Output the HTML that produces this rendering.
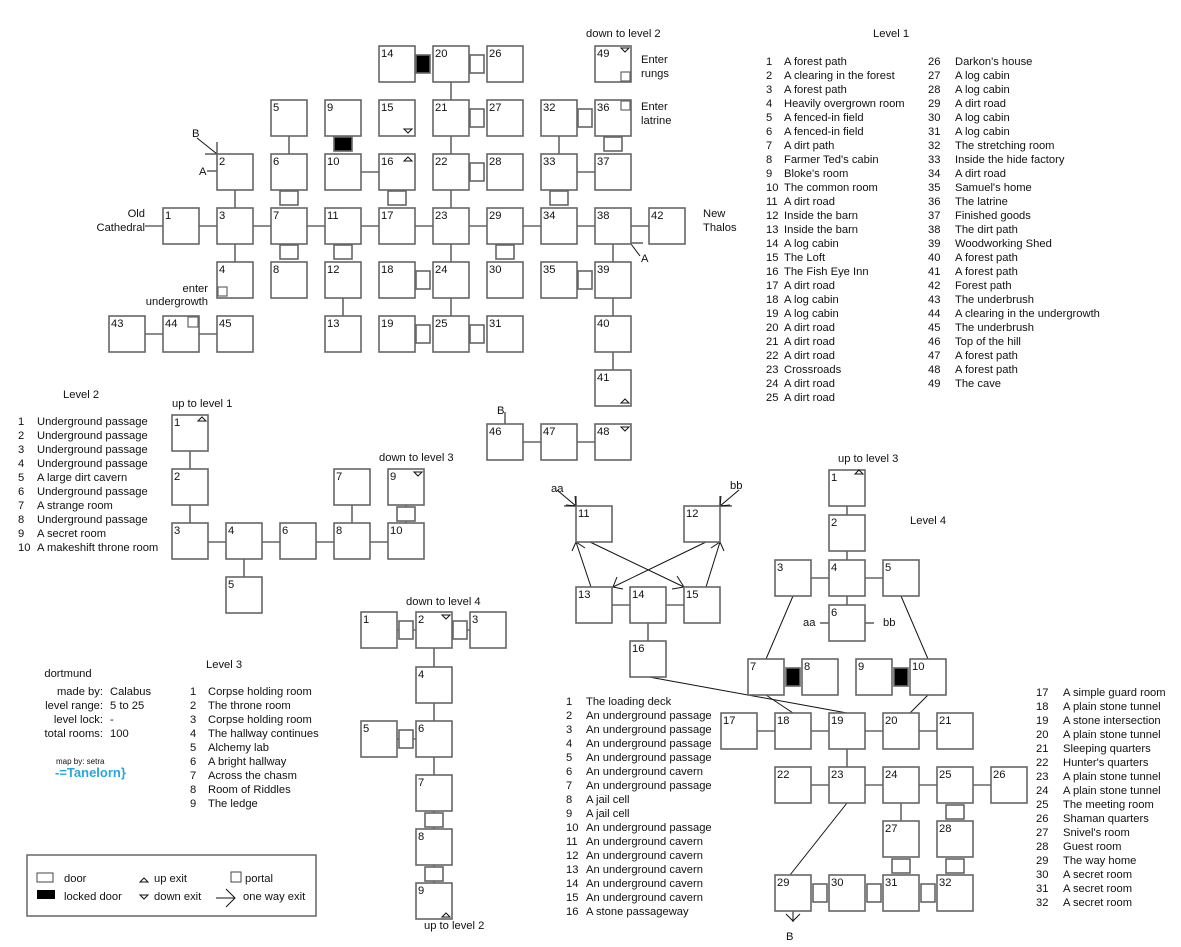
<!DOCTYPE html>
<html><head><meta charset="utf-8"><style>
html,body{margin:0;padding:0;background:#fff;}
svg{display:block;}
text{font-family:"Liberation Sans",sans-serif;font-size:11.2px;fill:#111;}
.r{fill:#fff;stroke:#666;stroke-width:1.6;}
.d{fill:#fff;stroke:#666;stroke-width:1.6;}
.k{fill:#000;stroke:#666;stroke-width:1.6;}
.l{stroke:#666;stroke-width:1.6;fill:none;}
.t{stroke:#111;stroke-width:1;fill:none;}
.p{fill:#fff;stroke:#666;stroke-width:1.2;}
.n{font-size:11.5px;}
</style></head><body>
<svg width="1181" height="947" viewBox="0 0 1181 947" xmlns="http://www.w3.org/2000/svg">
<defs>
<g id="R"><rect class="r" x="0" y="0" width="36" height="36"/></g>
</defs>
<g class="l">
<line x1="145" y1="226" x2="685" y2="226"/>
<line x1="235" y1="172" x2="235" y2="280"/>
<line x1="289" y1="118" x2="289" y2="172"/>
<line x1="343" y1="172" x2="397" y2="172"/>
<line x1="343" y1="280" x2="343" y2="334"/>
<line x1="451" y1="64" x2="451" y2="334"/>
<line x1="559" y1="118" x2="559" y2="172"/>
<line x1="559" y1="172" x2="613" y2="172"/>
<line x1="613" y1="226" x2="613" y2="388"/>
<line x1="127" y1="334" x2="235" y2="334"/>
<line x1="505" y1="442" x2="613" y2="442"/>
<line x1="505" y1="424" x2="505" y2="412"/>
<line x1="205" y1="154" x2="217" y2="154"/>
<line x1="217" y1="142" x2="217" y2="154"/>
<line x1="207" y1="171" x2="217" y2="171"/>
<line x1="631" y1="243" x2="643" y2="243"/>
<line x1="190" y1="434" x2="190" y2="542"/>
<line x1="190" y1="542" x2="406" y2="542"/>
<line x1="244" y1="542" x2="244" y2="595"/>
<line x1="352" y1="488" x2="352" y2="542"/>
<line x1="406" y1="488" x2="406" y2="542"/>
<line x1="380" y1="630" x2="488" y2="630"/>
<line x1="434" y1="630" x2="434" y2="901"/>
<line x1="380" y1="739" x2="434" y2="739"/>
<line x1="847" y1="488" x2="847" y2="623"/>
<line x1="793" y1="578" x2="901" y2="578"/>
<line x1="820" y1="623" x2="829" y2="623"/>
<line x1="865" y1="623" x2="874" y2="623"/>
<line x1="739" y1="731" x2="955" y2="731"/>
<line x1="847" y1="731" x2="847" y2="785"/>
<line x1="793" y1="785" x2="1009" y2="785"/>
<line x1="901" y1="785" x2="901" y2="839"/>
<line x1="594" y1="605" x2="702" y2="605"/>
<line x1="648" y1="605" x2="648" y2="659"/>
<line x1="564" y1="506" x2="576" y2="506"/>
<line x1="576" y1="496" x2="576" y2="506"/>
<line x1="720" y1="506" x2="732" y2="506"/>
<line x1="720" y1="496" x2="720" y2="506"/>
</g>
<g class="t">
<line x1="197" y1="138" x2="217" y2="154"/>
<line x1="631" y1="244" x2="640" y2="256"/>
<line x1="793" y1="596" x2="766" y2="659"/>
<line x1="901" y1="596" x2="928" y2="659"/>
<line x1="766" y1="695" x2="793" y2="713"/>
<line x1="649" y1="677" x2="847" y2="713"/>
<line x1="928" y1="695" x2="910" y2="713"/>
<line x1="847" y1="803" x2="790" y2="875"/>
<line x1="793" y1="911" x2="793" y2="922"/><polyline points="786,914 793,921 800,914"/>
<line x1="591" y1="587" x2="576" y2="542"/><polyline points="572,551 576,542 585,548"/>
<line x1="706" y1="587" x2="720" y2="542"/><polyline points="711,548 720,542 724,551"/>
<line x1="590" y1="542" x2="684" y2="587"/><polyline points="677,576 684,587 672,589"/>
<line x1="706" y1="542" x2="613" y2="587"/><polyline points="617,577 613,587 623,589"/>
<line x1="557" y1="490" x2="576" y2="506"/><polyline points="566,505 576,506 575,496"/>
<line x1="739" y1="490" x2="720" y2="506"/><polyline points="721,496 720,506 730,505"/>
</g>
<g>
<use href="#R" x="163" y="208"/><use href="#R" x="217" y="154"/><use href="#R" x="217" y="208"/><use href="#R" x="217" y="262"/>
<use href="#R" x="271" y="100"/><use href="#R" x="271" y="154"/><use href="#R" x="271" y="208"/><use href="#R" x="271" y="262"/>
<use href="#R" x="325" y="100"/><use href="#R" x="325" y="154"/><use href="#R" x="325" y="208"/><use href="#R" x="325" y="262"/><use href="#R" x="325" y="316"/>
<use href="#R" x="379" y="46"/><use href="#R" x="379" y="100"/><use href="#R" x="379" y="154"/><use href="#R" x="379" y="208"/><use href="#R" x="379" y="262"/><use href="#R" x="379" y="316"/>
<use href="#R" x="433" y="46"/><use href="#R" x="433" y="100"/><use href="#R" x="433" y="154"/><use href="#R" x="433" y="208"/><use href="#R" x="433" y="262"/><use href="#R" x="433" y="316"/>
<use href="#R" x="487" y="46"/><use href="#R" x="487" y="100"/><use href="#R" x="487" y="154"/><use href="#R" x="487" y="208"/><use href="#R" x="487" y="262"/><use href="#R" x="487" y="316"/>
<use href="#R" x="541" y="100"/><use href="#R" x="541" y="154"/><use href="#R" x="541" y="208"/><use href="#R" x="541" y="262"/>
<use href="#R" x="595" y="100"/><use href="#R" x="595" y="154"/><use href="#R" x="595" y="208"/><use href="#R" x="595" y="262"/><use href="#R" x="595" y="316"/><use href="#R" x="595" y="370"/>
<use href="#R" x="649" y="208"/><use href="#R" x="109" y="316"/><use href="#R" x="163" y="316"/><use href="#R" x="217" y="316"/>
<use href="#R" x="487" y="424"/><use href="#R" x="541" y="424"/><use href="#R" x="595" y="424"/><use href="#R" x="595" y="46"/>
<use href="#R" x="172" y="415"/><use href="#R" x="172" y="469"/><use href="#R" x="172" y="523"/><use href="#R" x="226" y="523"/><use href="#R" x="226" y="577"/>
<use href="#R" x="280" y="523"/><use href="#R" x="334" y="469"/><use href="#R" x="334" y="523"/><use href="#R" x="388" y="469"/><use href="#R" x="388" y="523"/>
<use href="#R" x="361" y="612"/><use href="#R" x="416" y="612"/><use href="#R" x="470" y="612"/><use href="#R" x="416" y="667"/>
<use href="#R" x="361" y="721"/><use href="#R" x="416" y="721"/><use href="#R" x="416" y="775"/><use href="#R" x="416" y="829"/><use href="#R" x="416" y="883"/>
<use href="#R" x="829" y="470"/><use href="#R" x="829" y="515"/><use href="#R" x="775" y="560"/><use href="#R" x="829" y="560"/><use href="#R" x="883" y="560"/><use href="#R" x="829" y="605"/>
<use href="#R" x="748" y="659"/><use href="#R" x="802" y="659"/><use href="#R" x="856" y="659"/><use href="#R" x="910" y="659"/>
<use href="#R" x="721" y="713"/><use href="#R" x="775" y="713"/><use href="#R" x="829" y="713"/><use href="#R" x="883" y="713"/><use href="#R" x="937" y="713"/>
<use href="#R" x="775" y="767"/><use href="#R" x="829" y="767"/><use href="#R" x="883" y="767"/><use href="#R" x="937" y="767"/><use href="#R" x="991" y="767"/>
<use href="#R" x="883" y="821"/><use href="#R" x="937" y="821"/>
<use href="#R" x="775" y="875"/><use href="#R" x="829" y="875"/><use href="#R" x="883" y="875"/><use href="#R" x="937" y="875"/>
<use href="#R" x="576" y="506"/><use href="#R" x="684" y="506"/><use href="#R" x="576" y="587"/><use href="#R" x="630" y="587"/><use href="#R" x="684" y="587"/><use href="#R" x="630" y="641"/>
</g>
<g>
<rect class="d" x="280" y="191" width="18" height="14"/><rect class="d" x="280" y="245" width="18" height="14"/>
<rect class="d" x="334" y="245" width="18" height="14"/><rect class="d" x="388" y="191" width="18" height="14"/>
<rect class="d" x="604" y="137" width="18" height="14"/><rect class="d" x="550" y="191" width="18" height="14"/>
<rect class="d" x="496" y="245" width="18" height="14"/>
<rect class="k" x="334" y="137" width="18" height="14"/>
<rect class="k" x="416" y="55" width="14" height="18"/>
<rect class="d" x="470" y="55" width="14" height="18"/><rect class="d" x="470" y="109" width="14" height="18"/>
<rect class="d" x="470" y="163" width="14" height="18"/><rect class="d" x="416" y="271" width="14" height="18"/>
<rect class="d" x="416" y="325" width="14" height="18"/><rect class="d" x="470" y="325" width="14" height="18"/>
<rect class="d" x="578" y="109" width="14" height="18"/><rect class="d" x="578" y="271" width="14" height="18"/>
<rect class="d" x="397" y="507" width="18" height="14"/>
<rect class="d" x="399" y="621" width="14" height="18"/><rect class="d" x="453" y="621" width="14" height="18"/>
<rect class="d" x="399" y="730" width="14" height="18"/>
<rect class="d" x="425" y="813" width="18" height="14"/><rect class="d" x="425" y="867" width="18" height="14"/>
<rect class="k" x="786" y="668" width="14" height="18"/><rect class="k" x="894" y="668" width="14" height="18"/>
<rect class="d" x="946" y="805" width="18" height="14"/><rect class="d" x="892" y="859" width="18" height="14"/><rect class="d" x="946" y="859" width="18" height="14"/>
<rect class="d" x="813" y="884" width="14" height="18"/><rect class="d" x="867" y="884" width="14" height="18"/><rect class="d" x="921" y="884" width="14" height="18"/>
</g>
<g>
<rect class="p" x="218" y="287" width="9" height="9"/>
<rect class="p" x="188" y="317" width="10" height="10"/>
<rect class="p" x="621" y="101" width="9" height="9"/>
<rect class="p" x="621" y="72" width="9" height="9"/>
<g class="t" stroke-width="1.3">
<polygon points="621,48 629,48 625,52"/>
<polygon points="404,129 412,129 408,133"/>
<polygon points="404,161 412,161 408,157"/>
<polygon points="621,403 629,403 625,399"/>
<polygon points="621,427 629,427 625,431"/>
<polygon points="198,421 206,421 202,417"/>
<polygon points="414,472 422,472 418,476"/>
<polygon points="442,615 450,615 446,619"/>
<polygon points="442,917 450,917 446,913"/>
<polygon points="855,474 863,474 859,470"/>
</g>
</g>
<g class="n">
<text x="165" y="219">1</text><text x="219" y="165">2</text><text x="219" y="219">3</text><text x="219" y="273">4</text>
<text x="273" y="111">5</text><text x="273" y="165">6</text><text x="273" y="219">7</text><text x="273" y="273">8</text>
<text x="327" y="111">9</text><text x="327" y="165">10</text><text x="327" y="219">11</text><text x="327" y="273">12</text><text x="327" y="327">13</text>
<text x="381" y="57">14</text><text x="381" y="111">15</text><text x="381" y="165">16</text><text x="381" y="219">17</text><text x="381" y="273">18</text><text x="381" y="327">19</text>
<text x="435" y="57">20</text><text x="435" y="111">21</text><text x="435" y="165">22</text><text x="435" y="219">23</text><text x="435" y="273">24</text><text x="435" y="327">25</text>
<text x="489" y="57">26</text><text x="489" y="111">27</text><text x="489" y="165">28</text><text x="489" y="219">29</text><text x="489" y="273">30</text><text x="489" y="327">31</text>
<text x="543" y="111">32</text><text x="543" y="165">33</text><text x="543" y="219">34</text><text x="543" y="273">35</text>
<text x="597" y="111">36</text><text x="597" y="165">37</text><text x="597" y="219">38</text><text x="597" y="273">39</text><text x="597" y="327">40</text><text x="597" y="381">41</text>
<text x="651" y="219">42</text><text x="111" y="327">43</text><text x="165" y="327">44</text><text x="219" y="327">45</text>
<text x="489" y="435">46</text><text x="543" y="435">47</text><text x="597" y="435">48</text><text x="597" y="57">49</text>
<text x="174" y="426">1</text><text x="174" y="480">2</text><text x="174" y="534">3</text><text x="228" y="534">4</text><text x="228" y="588">5</text>
<text x="282" y="534">6</text><text x="336" y="480">7</text><text x="336" y="534">8</text><text x="390" y="480">9</text><text x="390" y="534">10</text>
<text x="363" y="623">1</text><text x="418" y="623">2</text><text x="472" y="623">3</text><text x="418" y="678">4</text>
<text x="363" y="732">5</text><text x="418" y="732">6</text><text x="418" y="786">7</text><text x="418" y="840">8</text><text x="418" y="894">9</text>
<text x="831" y="481">1</text><text x="831" y="526">2</text><text x="777" y="571">3</text><text x="831" y="571">4</text><text x="885" y="571">5</text><text x="831" y="616">6</text>
<text x="750" y="670">7</text><text x="804" y="670">8</text><text x="858" y="670">9</text><text x="912" y="670">10</text>
<text x="723" y="724">17</text><text x="777" y="724">18</text><text x="831" y="724">19</text><text x="885" y="724">20</text><text x="939" y="724">21</text>
<text x="777" y="778">22</text><text x="831" y="778">23</text><text x="885" y="778">24</text><text x="939" y="778">25</text><text x="993" y="778">26</text>
<text x="885" y="832">27</text><text x="939" y="832">28</text>
<text x="777" y="886">29</text><text x="831" y="886">30</text><text x="885" y="886">31</text><text x="939" y="886">32</text>
<text x="578" y="517">11</text><text x="686" y="517">12</text><text x="578" y="598">13</text><text x="632" y="598">14</text><text x="686" y="598">15</text><text x="632" y="652">16</text>
</g>
<g>
<text x="586" y="37">down to level 2</text>
<text x="641" y="63">Enter</text><text x="641" y="77">rungs</text>
<text x="641" y="110">Enter</text><text x="641" y="124">latrine</text>
<text x="145" y="217" text-anchor="end">Old</text><text x="145" y="231" text-anchor="end">Cathedral</text>
<text x="703" y="217">New</text><text x="703" y="231">Thalos</text>
<text x="208" y="292" text-anchor="end">enter</text><text x="208" y="305" text-anchor="end">undergrowth</text>
<text x="192" y="137">B</text><text x="199" y="175">A</text><text x="641" y="262">A</text><text x="497" y="414">B</text>
<text x="172" y="407">up to level 1</text><text x="379" y="461">down to level 3</text>
<text x="406" y="605">down to level 4</text><text x="424" y="929">up to level 2</text>
<text x="838" y="462">up to level 3</text>
<text x="551" y="492">aa</text><text x="730" y="489">bb</text>
<text x="803" y="626">aa</text><text x="883" y="626">bb</text>
<text x="786" y="940">B</text>
</g>
<g>
<text x="873" y="37">Level 1</text>
<text x="766" y="65">1</text><text x="784" y="65">A forest path</text>
<text x="766" y="79">2</text><text x="784" y="79">A clearing in the forest</text>
<text x="766" y="93">3</text><text x="784" y="93">A forest path</text>
<text x="766" y="107">4</text><text x="784" y="107">Heavily overgrown room</text>
<text x="766" y="121">5</text><text x="784" y="121">A fenced-in field</text>
<text x="766" y="135">6</text><text x="784" y="135">A fenced-in field</text>
<text x="766" y="149">7</text><text x="784" y="149">A dirt path</text>
<text x="766" y="163">8</text><text x="784" y="163">Farmer Ted's cabin</text>
<text x="766" y="177">9</text><text x="784" y="177">Bloke's room</text>
<text x="766" y="191">10</text><text x="784" y="191">The common room</text>
<text x="766" y="205">11</text><text x="784" y="205">A dirt road</text>
<text x="766" y="219">12</text><text x="784" y="219">Inside the barn</text>
<text x="766" y="233">13</text><text x="784" y="233">Inside the barn</text>
<text x="766" y="247">14</text><text x="784" y="247">A log cabin</text>
<text x="766" y="261">15</text><text x="784" y="261">The Loft</text>
<text x="766" y="275">16</text><text x="784" y="275">The Fish Eye Inn</text>
<text x="766" y="289">17</text><text x="784" y="289">A dirt road</text>
<text x="766" y="303">18</text><text x="784" y="303">A log cabin</text>
<text x="766" y="317">19</text><text x="784" y="317">A log cabin</text>
<text x="766" y="331">20</text><text x="784" y="331">A dirt road</text>
<text x="766" y="345">21</text><text x="784" y="345">A dirt road</text>
<text x="766" y="359">22</text><text x="784" y="359">A dirt road</text>
<text x="766" y="373">23</text><text x="784" y="373">Crossroads</text>
<text x="766" y="387">24</text><text x="784" y="387">A dirt road</text>
<text x="766" y="401">25</text><text x="784" y="401">A dirt road</text>
<text x="928" y="65">26</text><text x="955" y="65">Darkon's house</text>
<text x="928" y="79">27</text><text x="955" y="79">A log cabin</text>
<text x="928" y="93">28</text><text x="955" y="93">A log cabin</text>
<text x="928" y="107">29</text><text x="955" y="107">A dirt road</text>
<text x="928" y="121">30</text><text x="955" y="121">A log cabin</text>
<text x="928" y="135">31</text><text x="955" y="135">A log cabin</text>
<text x="928" y="149">32</text><text x="955" y="149">The stretching room</text>
<text x="928" y="163">33</text><text x="955" y="163">Inside the hide factory</text>
<text x="928" y="177">34</text><text x="955" y="177">A dirt road</text>
<text x="928" y="191">35</text><text x="955" y="191">Samuel's home</text>
<text x="928" y="205">36</text><text x="955" y="205">The latrine</text>
<text x="928" y="219">37</text><text x="955" y="219">Finished goods</text>
<text x="928" y="233">38</text><text x="955" y="233">The dirt path</text>
<text x="928" y="247">39</text><text x="955" y="247">Woodworking Shed</text>
<text x="928" y="261">40</text><text x="955" y="261">A forest path</text>
<text x="928" y="275">41</text><text x="955" y="275">A forest path</text>
<text x="928" y="289">42</text><text x="955" y="289">Forest path</text>
<text x="928" y="303">43</text><text x="955" y="303">The underbrush</text>
<text x="928" y="317">44</text><text x="955" y="317">A clearing in the undergrowth</text>
<text x="928" y="331">45</text><text x="955" y="331">The underbrush</text>
<text x="928" y="345">46</text><text x="955" y="345">Top of the hill</text>
<text x="928" y="359">47</text><text x="955" y="359">A forest path</text>
<text x="928" y="373">48</text><text x="955" y="373">A forest path</text>
<text x="928" y="387">49</text><text x="955" y="387">The cave</text>
</g>
<g>
<text x="63" y="398">Level 2</text>
<text x="18" y="425">1</text><text x="37" y="425">Underground passage</text>
<text x="18" y="439">2</text><text x="37" y="439">Underground passage</text>
<text x="18" y="453">3</text><text x="37" y="453">Underground passage</text>
<text x="18" y="467">4</text><text x="37" y="467">Underground passage</text>
<text x="18" y="481">5</text><text x="37" y="481">A large dirt cavern</text>
<text x="18" y="495">6</text><text x="37" y="495">Underground passage</text>
<text x="18" y="509">7</text><text x="37" y="509">A strange room</text>
<text x="18" y="523">8</text><text x="37" y="523">Underground passage</text>
<text x="18" y="537">9</text><text x="37" y="537">A secret room</text>
<text x="18" y="551">10</text><text x="37" y="551">A makeshift throne room</text>
</g>
<g>
<text x="206" y="668">Level 3</text>
<text x="190" y="695">1</text><text x="208" y="695">Corpse holding room</text>
<text x="190" y="709">2</text><text x="208" y="709">The throne room</text>
<text x="190" y="723">3</text><text x="208" y="723">Corpse holding room</text>
<text x="190" y="737">4</text><text x="208" y="737">The hallway continues</text>
<text x="190" y="751">5</text><text x="208" y="751">Alchemy lab</text>
<text x="190" y="765">6</text><text x="208" y="765">A bright hallway</text>
<text x="190" y="779">7</text><text x="208" y="779">Across the chasm</text>
<text x="190" y="793">8</text><text x="208" y="793">Room of Riddles</text>
<text x="190" y="807">9</text><text x="208" y="807">The ledge</text>
</g>
<g>
<text x="910" y="524">Level 4</text>
<text x="566" y="705">1</text><text x="586" y="705">The loading deck</text>
<text x="566" y="719">2</text><text x="586" y="719">An underground passage</text>
<text x="566" y="733">3</text><text x="586" y="733">An underground passage</text>
<text x="566" y="747">4</text><text x="586" y="747">An underground passage</text>
<text x="566" y="761">5</text><text x="586" y="761">An underground passage</text>
<text x="566" y="775">6</text><text x="586" y="775">An underground cavern</text>
<text x="566" y="789">7</text><text x="586" y="789">An underground passage</text>
<text x="566" y="803">8</text><text x="586" y="803">A jail cell</text>
<text x="566" y="817">9</text><text x="586" y="817">A jail cell</text>
<text x="566" y="831">10</text><text x="586" y="831">An underground passage</text>
<text x="566" y="845">11</text><text x="586" y="845">An underground cavern</text>
<text x="566" y="859">12</text><text x="586" y="859">An underground cavern</text>
<text x="566" y="873">13</text><text x="586" y="873">An underground cavern</text>
<text x="566" y="887">14</text><text x="586" y="887">An underground cavern</text>
<text x="566" y="901">15</text><text x="586" y="901">An underground cavern</text>
<text x="566" y="915">16</text><text x="586" y="915">A stone passageway</text>
<text x="1036" y="696">17</text><text x="1063" y="696">A simple guard room</text>
<text x="1036" y="710">18</text><text x="1063" y="710">A plain stone tunnel</text>
<text x="1036" y="724">19</text><text x="1063" y="724">A stone intersection</text>
<text x="1036" y="738">20</text><text x="1063" y="738">A plain stone tunnel</text>
<text x="1036" y="752">21</text><text x="1063" y="752">Sleeping quarters</text>
<text x="1036" y="766">22</text><text x="1063" y="766">Hunter's quarters</text>
<text x="1036" y="780">23</text><text x="1063" y="780">A plain stone tunnel</text>
<text x="1036" y="794">24</text><text x="1063" y="794">A plain stone tunnel</text>
<text x="1036" y="808">25</text><text x="1063" y="808">The meeting room</text>
<text x="1036" y="822">26</text><text x="1063" y="822">Shaman quarters</text>
<text x="1036" y="836">27</text><text x="1063" y="836">Snivel's room</text>
<text x="1036" y="850">28</text><text x="1063" y="850">Guest room</text>
<text x="1036" y="864">29</text><text x="1063" y="864">The way home</text>
<text x="1036" y="878">30</text><text x="1063" y="878">A secret room</text>
<text x="1036" y="892">31</text><text x="1063" y="892">A secret room</text>
<text x="1036" y="906">32</text><text x="1063" y="906">A secret room</text>
</g>
<g>
<text x="68" y="677" text-anchor="middle">dortmund</text>
<text x="103" y="695" text-anchor="end">made by:</text><text x="110" y="695">Calabus</text>
<text x="103" y="709" text-anchor="end">level range:</text><text x="110" y="709">5 to 25</text>
<text x="103" y="723" text-anchor="end">level lock:</text><text x="110" y="723">-</text>
<text x="103" y="737" text-anchor="end">total rooms:</text><text x="110" y="737">100</text>
<text x="56" y="764" style="font-size:8px">map by: setra</text>
<text x="55" y="777" style="font-size:13px;fill:#2aa6d8;font-weight:bold">-=Tanelorn}</text>
</g>
<g>
<rect x="27" y="855" width="289" height="61" fill="none" stroke="#666" stroke-width="1.5"/>
<rect x="37" y="873" width="16" height="9" fill="#fff" stroke="#444" stroke-width="1"/>
<text x="64" y="882">door</text>
<rect x="37" y="890" width="18" height="9" fill="#000"/>
<text x="64" y="900">locked door</text>
<polygon points="140,882 148,882 144,878" fill="none" stroke="#111"/>
<text x="154" y="882">up exit</text>
<polygon points="140,895 148,895 144,899" fill="none" stroke="#111"/>
<text x="154" y="900">down exit</text>
<rect x="231" y="872" width="10" height="10" fill="#fff" stroke="#444" stroke-width="1"/>
<text x="245" y="882">portal</text>
<g class="t"><line x1="216" y1="898" x2="235" y2="898"/><polyline points="226,889 235,898 226,907"/></g>
<text x="243" y="900">one way exit</text>
</g>
</svg>
</body></html>
